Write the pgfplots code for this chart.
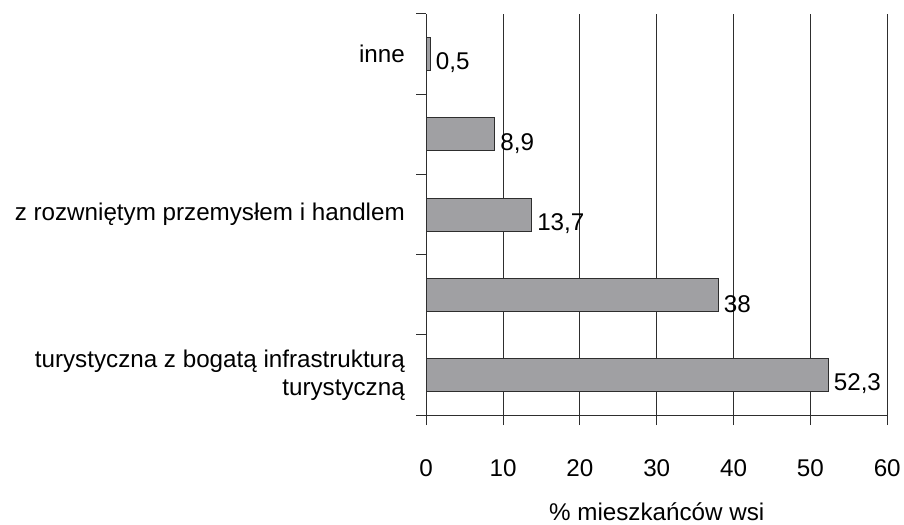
\documentclass[border=0pt]{standalone}
\usepackage{fontspec}
\setmainfont{Liberation Sans}
\usepackage{pgfplots}
\pgfplotsset{compat=1.18}
\definecolor{barfill}{HTML}{A0A0A3}
\definecolor{edge}{HTML}{2E2E2E}
\begin{document}
\begin{tikzpicture}
\begin{axis}[name=a,
 xbar, bar width=33bp, bar shift=0pt,
 scale only axis, width=463bp, height=403bp,
 xmin=0, xmax=60, ymin=-0.5, ymax=4.5,
 axis lines*=left,
 axis line style={edge, line width=1bp},
 xtick={0,10,...,60},
 xmajorgrids, grid style={edge, line width=1bp},
 major tick length=10bp,
 tick align=outside,
 tick style={edge, line width=1bp},
 ytick={-0.5,0.5,...,4.5},
 yticklabels={},
 extra y ticks={0,1,2,3,4},
 extra y tick labels={{turystyczna z bogatą infrastrukturą\\turystyczną},{},{z rozwniętym przemysłem i handlem},{},{inne}},
 extra y tick style={major tick length=0pt, yticklabel style={align=right, xshift=-18bp}},
 ticklabel style={font=\fontsize{24.3bp}{28bp}\selectfont},
 /pgf/number format/.cd, use comma, assume math mode=true, 1000 sep={},
 /pgfplots/.cd,
 xticklabel style={yshift=-31bp},
 xlabel={\% mieszkańców wsi},
 xlabel style={font=\fontsize{24.3bp}{28bp}\selectfont, yshift=-19bp},
 nodes near coords,
 nodes near coords style={font=\fontsize{24.3bp}{28bp}\selectfont, anchor=west, xshift=2bp, yshift=-9bp, text=black},
]
\addplot[fill=barfill, draw=edge, line width=1bp] coordinates {
 (52.3,0) (38,1) (13.7,2) (8.9,3) (0.5,4)
};
\end{axis}
\path ([xshift=-428bp,yshift=-110bp]a.south west) rectangle ([xshift=13bp,yshift=14bp]a.north east);
\end{tikzpicture}
\end{document}
